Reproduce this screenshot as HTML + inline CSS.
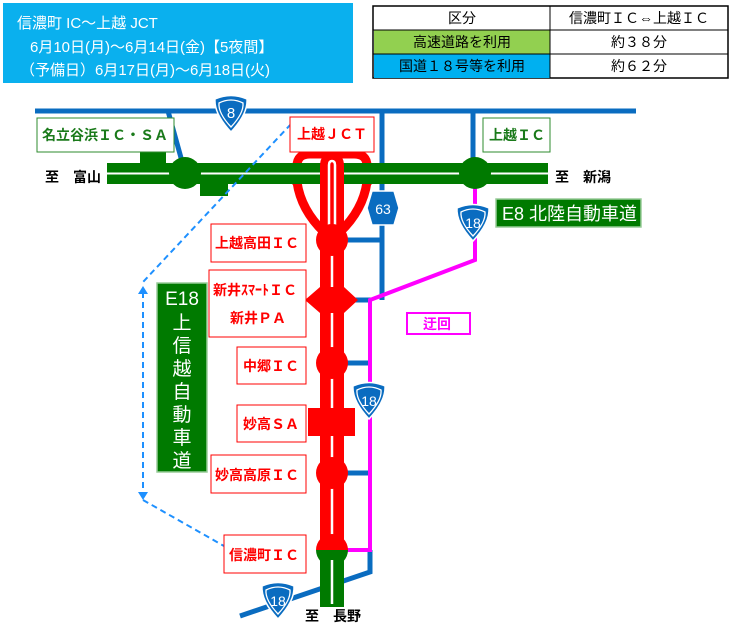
<!DOCTYPE html>
<html><head><meta charset="utf-8"><style>
body{margin:0;background:#fff;width:730px;height:625px;overflow:hidden;font-family:"Liberation Sans","Noto Sans CJK JP",sans-serif}
svg text{font-family:"Liberation Sans","Noto Sans CJK JP",sans-serif}
</style></head><body>
<svg width="730" height="625" viewBox="0 0 730 625" xmlns="http://www.w3.org/2000/svg">
<defs>
<g id="sh"><path d="M-16,-14 Q0,-21 16,-14 Q17,1 0,19 Q-17,1 -16,-14Z" fill="#0a6cc0" stroke="#fff" stroke-width="1.5"/><path d="M-12,-10 Q0,-16 12,-10 Q13,0 0,14 Q-13,0 -12,-10Z" fill="none" stroke="#fff" stroke-width="1.3"/></g>
</defs>
<rect x="3" y="3" width="350" height="80" fill="#0ab0ee"/>
<text x="17" y="28" fill="#fff" font-size="15">信濃町 IC～上越 JCT</text>
<text x="30" y="52" fill="#fff" font-size="15">6月10日(月)～6月14日(金)【5夜間】</text>
<text x="20" y="75" fill="#fff" font-size="15">（予備日）6月17日(月)～6月18日(火)</text>
<g font-size="14" text-anchor="middle">
<rect x="373" y="6" width="355" height="72" fill="#fff" stroke="#000" stroke-width="1.5"/>
<rect x="374" y="30" width="176" height="24" fill="#92d050"/>
<rect x="374" y="54" width="176" height="24" fill="#00b0f0"/>
<line x1="373" y1="30" x2="728" y2="30" stroke="#000"/><line x1="373" y1="54" x2="728" y2="54" stroke="#000"/><line x1="550" y1="6" x2="550" y2="78" stroke="#000"/>
<text x="462" y="23">区分</text><text x="639" y="23">信濃町ＩＣ⇔上越ＩＣ</text>
<text x="462" y="47">高速道路を利用</text><text x="639" y="47">約３８分</text>
<text x="462" y="71">国道１８号等を利用</text><text x="639" y="71">約６２分</text>
</g>
<g stroke="#0a6cc0" stroke-width="5" fill="none">
<line x1="35" y1="111" x2="636" y2="111"/>
<line x1="168" y1="111" x2="183" y2="165"/>
<line x1="382" y1="111" x2="382" y2="300"/>
<line x1="473" y1="111" x2="473" y2="172"/>
<line x1="346" y1="240" x2="382" y2="240"/>
<line x1="346" y1="300" x2="372" y2="300"/>
<line x1="346" y1="363" x2="370" y2="363"/>
<line x1="346" y1="473" x2="370" y2="473"/>
<polyline points="370,550 370,572 240,616"/>
</g>
<polyline points="475,185 475,260 370,300 370,550 346,550" fill="none" stroke="#ff00ff" stroke-width="4"/>
<!-- red JCT outer loops -->
<g fill="none" stroke="#f00" stroke-width="9">
<path d="M297,185 L297,166 Q297,154 310,154 L354,154 Q367,154 367,166 L367,185"/>
<path d="M297,182 Q301,210 324,232"/><path d="M367,182 Q363,210 340,232"/>
</g>
<rect x="107" y="163" width="441" height="21" fill="#007a00"/>
<line x1="107" y1="173.5" x2="548" y2="173.5" stroke="#fff" stroke-width="2"/>
<rect x="140" y="152" width="26" height="12" fill="#007a00"/>
<rect x="200" y="183" width="28" height="13" fill="#007a00"/>
<circle cx="185" cy="173" r="16" fill="#007a00"/>
<circle cx="475" cy="173" r="16" fill="#007a00"/>
<path d="M320,550 L320,166 Q320,153 332,153 Q344,153 344,166 L344,550Z" fill="#f00"/>
<path d="M329,240 L329,165 Q329,161 332,161 Q335,161 335,165 L335,240" fill="none" stroke="#fff" stroke-width="2.5"/>
<line x1="332" y1="240" x2="332" y2="540" stroke="#fff" stroke-width="2.5"/>
<circle cx="332" cy="240" r="16" fill="#f00"/>
<circle cx="332" cy="363" r="16" fill="#f00"/>
<circle cx="332" cy="473" r="16" fill="#f00"/>
<polygon points="305,300 320,287 344,287 358,300 344,313 320,313" fill="#f00"/>
<rect x="308" y="408" width="47" height="28" fill="#f00"/>
<path d="M316,550 A16,16 0 0 1 348,550Z" fill="#f00"/>
<path d="M316,550 A16,16 0 0 0 348,550Z" fill="#007a00"/>
<rect x="320" y="555" width="24" height="52" fill="#007a00"/>
<line x1="332" y1="560" x2="332" y2="604" stroke="#fff" stroke-width="2.5"/>
<g font-size="15" fill="#fff" text-anchor="middle">
<use href="#sh" x="231" y="113"/><text x="231" y="118">8</text>
<use href="#sh" x="473" y="222"/><text x="473" y="228" font-size="14">18</text>
<use href="#sh" x="369" y="400"/><text x="369" y="406" font-size="14">18</text>
<use href="#sh" x="278" y="600"/><text x="278" y="606" font-size="14">18</text>
<polygon points="372,191 394,191 399,208 394,225 372,225 367,208" fill="#0a6cc0" stroke="#fff" stroke-width="1.5"/>
<text x="383" y="214" font-size="14">63</text>
</g>
<g stroke="#1e90ff" stroke-width="2" stroke-dasharray="6,4" fill="none">
<polyline points="291,124 143,282"/>
<line x1="143" y1="292" x2="143" y2="494"/>
<polyline points="143,500 224,546"/>
</g>
<polygon points="138,294 143,286 148,294" fill="#1e90ff"/>
<polygon points="138,492 143,500 148,492" fill="#1e90ff"/>
<g fill="#fff">
<rect x="37" y="118" width="137" height="34" stroke="#2e8b2e"/>
<rect x="483" y="118" width="67" height="34" stroke="#2e8b2e"/>
<rect x="290" y="117" width="84" height="35" stroke="#f00"/>
<rect x="211" y="224" width="95" height="38" stroke="#f00"/>
<rect x="209" y="270" width="97" height="67" stroke="#f00"/>
<rect x="237" y="347" width="69" height="37" stroke="#f00"/>
<rect x="237" y="405" width="69" height="37" stroke="#f00"/>
<rect x="211" y="455" width="95" height="38" stroke="#f00"/>
<rect x="224" y="535" width="82" height="38" stroke="#f00"/>
<rect x="407" y="313" width="63" height="21" stroke="#ff00ff" stroke-width="2"/>
</g>
<g font-size="14" font-weight="bold">
<text x="42" y="140" fill="#1a7a1a">名立谷浜ＩＣ・ＳＡ</text>
<text x="489" y="140" fill="#1a7a1a">上越ＩＣ</text>
<text x="297" y="139" fill="#f00">上越ＪＣＴ</text>
<text x="215" y="248" fill="#f00">上越高田ＩＣ</text>
<text x="213" y="295" fill="#f00">新井ｽﾏｰﾄＩＣ</text>
<text x="230" y="323" fill="#f00">新井ＰＡ</text>
<text x="243" y="371" fill="#f00">中郷ＩＣ</text>
<text x="243" y="429" fill="#f00">妙高ＳＡ</text>
<text x="215" y="480" fill="#f00">妙高高原ＩＣ</text>
<text x="229" y="560" fill="#f00">信濃町ＩＣ</text>
<text x="423" y="329" fill="#ff00ff">迂回</text>
<text x="45" y="182" fill="#000">至　富山</text>
<text x="555" y="182" fill="#000">至　新潟</text>
<text x="305" y="621" fill="#000">至　長野</text>
</g>
<rect x="496" y="199" width="145" height="28" fill="#007a00" stroke="#9c9" stroke-width="1.5"/>
<text x="502" y="220" fill="#fff" font-size="18">E8 北陸自動車道</text>
<rect x="157" y="283" width="50" height="189" fill="#007a00" stroke="#9c9" stroke-width="1.5"/>
<g fill="#fff" font-size="19" text-anchor="middle">
<text x="182" y="305">E18</text><text x="182" y="329">上</text><text x="182" y="352">信</text><text x="182" y="375">越</text><text x="182" y="398">自</text><text x="182" y="421">動</text><text x="182" y="444">車</text><text x="182" y="467">道</text>
</g>
</svg>
</body></html>
